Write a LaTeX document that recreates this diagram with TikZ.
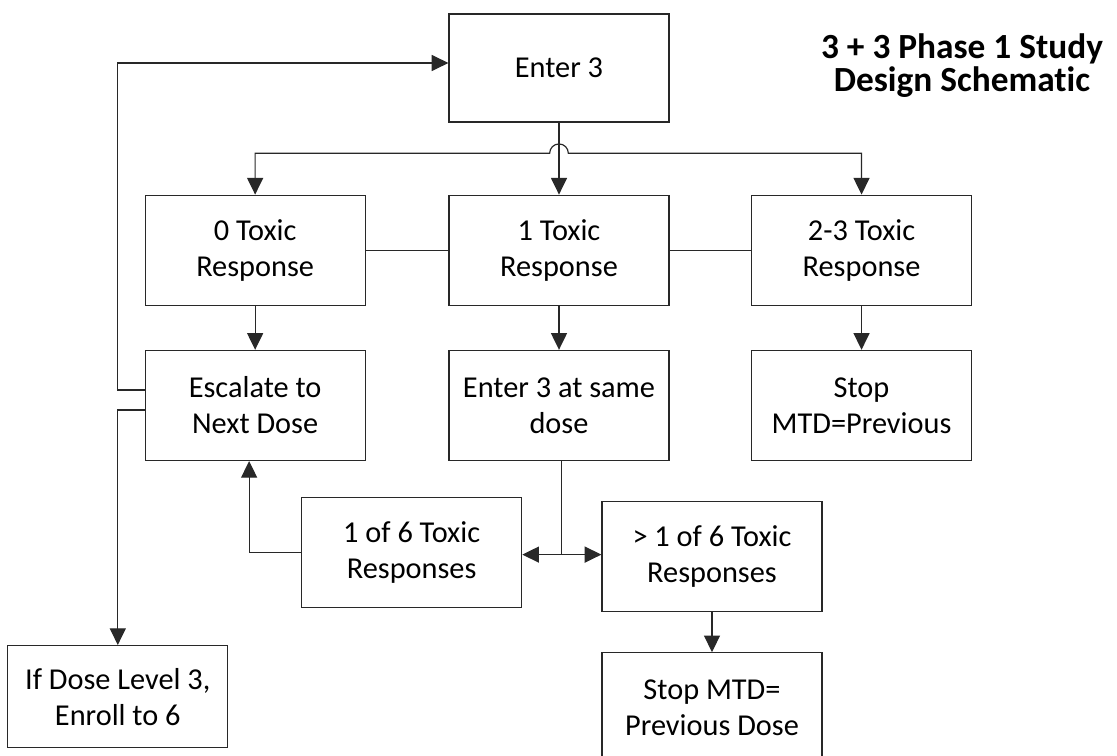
\documentclass[tikz,border=0pt]{standalone}
\usepackage{fontspec}
\setmainfont{Carlito}[Ligatures=NoCommon]
\usetikzlibrary{arrows.meta, positioning, calc}
\definecolor{linecolor}{RGB}{40, 40, 40}

\begin{document}
\begin{tikzpicture}[
    node distance=54pt and 62pt,
    stepbox/.style={draw=linecolor, line width=0.9pt, minimum width=165pt, minimum height=82.5pt, align=center, font=\fontsize{22.75}{27}\selectfont, inner sep=2pt},
    arrow/.style={-{Triangle[length=12.5pt, width=12pt]}, line width=0.9pt, draw=linecolor},
    conn/.style={line width=0.9pt, draw=linecolor},
    title/.style={font=\fontsize{26.5}{24.75}\selectfont\bfseries, align=center}
]
    \useasboundingbox (0,0) rectangle (837.75pt,-567pt);

    % Main entities
    \node[stepbox, minimum height=81pt] (enter) at (419.25pt,-51pt) {Enter 3};
    \node[stepbox, below=54pt of enter] (one) {1 Toxic\\Response};
    \node[stepbox, left=62pt of one] (zero) {0 Toxic\\Response};
    \node[stepbox, right=61pt of one] (twothree) {2-3 Toxic\\Response};
    \node[stepbox, below=33pt of zero] (escalate) {Escalate to\\Next Dose};
    \node[stepbox, below=33pt of one] (same) {Enter 3 at same\\dose};
    \node[stepbox, below=33pt of twothree] (stop) {Stop\\MTD=Previous};
    \node[stepbox, below=27pt of same, xshift=-110.5pt] (sixone) {1 of 6 Toxic\\Responses};
    \node[stepbox, below=30pt of same, xshift=114.75pt] (sixmore) {> 1 of 6 Toxic\\Responses};
    \node[stepbox, below=30pt of sixmore] (stopdose) {Stop MTD=\\Previous Dose};
    \node[stepbox, minimum height=76.5pt, below=138pt of escalate, xshift=-103pt] (level) {If Dose Level 3,\\Enroll to 6};
    \node[title] (heading) at (721.5pt,-49.5pt) {3 + 3 Phase 1 Study\\Design Schematic};

    % Relationships
    \coordinate (split) at ($(one.north)+(0,31pt)$);
    \draw[arrow] (enter) -- (one);
    \draw[{Triangle[length=12.5pt, width=12pt]}-{Triangle[length=12.5pt, width=12pt]}, conn] (zero.north) |- ([xshift=-7pt]split) arc[start angle=180, end angle=0, radius=7pt] -| (twothree.north);
    \draw[conn] (zero) -- (one);
    \draw[conn] (one) -- (twothree);
    \draw[arrow] (zero) -- (escalate);
    \draw[arrow] (one) -- (same);
    \draw[arrow] (twothree) -- (stop);

    % Back to the start
    \draw[arrow] ([yshift=11.5pt]escalate.west) -- ++(-20.25pt,0) |- ([yshift=3.75pt]enter.west);
    \draw[arrow] ([yshift=-3.5pt]escalate.west) -| (level.north);

    % Six patients
    \coordinate (junction) at ($(sixone.east)!0.5!(sixmore.west)$);
    \draw[conn] (same.south -| junction) -- (junction);
    \draw[arrow] (junction) -- (junction -| sixone.east);
    \draw[arrow] (junction) -- (junction -| sixmore.west);
    \draw[arrow] (sixone.west) -| ([xshift=-4.5pt]escalate.south);
    \draw[arrow] (sixmore) -- (stopdose);
\end{tikzpicture}
\end{document}
